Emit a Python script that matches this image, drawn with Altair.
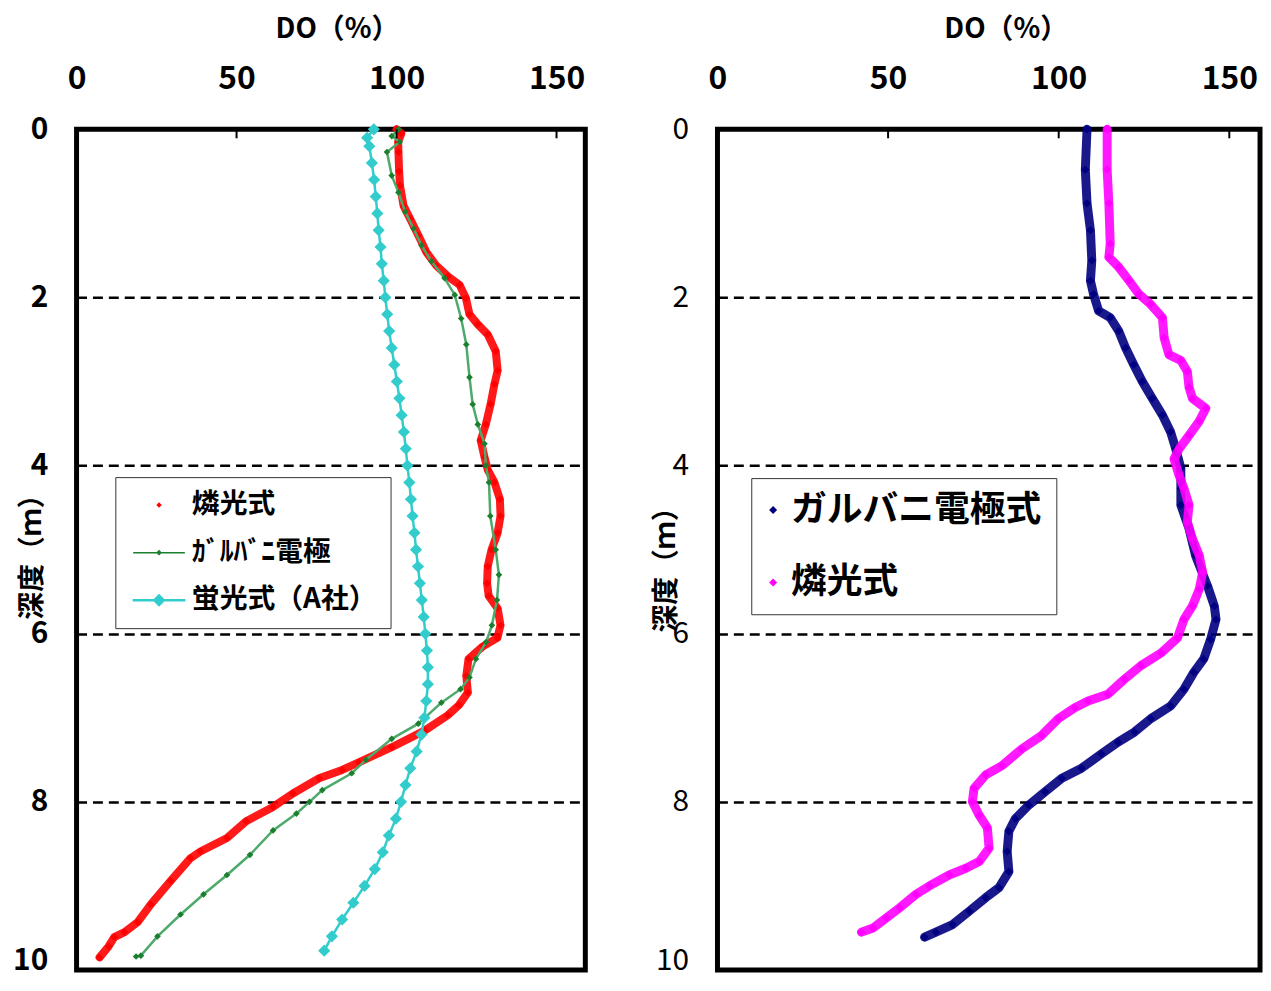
import altair as alt
import pandas as pd

FONT = "Noto Sans CJK JP"

# ---------------- Left panel ----------------
red_name = "燐光式"
red_depth = [0.0, 0.05, 0.15, 0.27, 0.5, 0.67, 0.91, 1.06, 1.26, 1.46, 1.62, 1.75, 1.85, 2.01, 2.2,
             2.32, 2.44, 2.64, 2.87, 3.03, 3.27, 3.51, 3.7, 3.9, 4.05, 4.2, 4.4, 4.6, 4.8, 5.0,
             5.2, 5.4, 5.55, 5.7, 5.9, 6.05, 6.15, 6.3, 6.5, 6.7, 6.85, 6.97, 7.15, 7.35, 7.53,
             7.62, 7.72, 7.9, 8.06, 8.23, 8.43, 8.59, 8.67, 8.94, 9.22, 9.43, 9.55, 9.61, 9.72, 9.85]
red_do = [100.0, 101.5, 100.5, 100.6, 100.8, 101.1, 102.2, 104.2, 106.8, 109.3, 112.4, 116.1, 119.7, 121.7, 122.8,
          125.4, 128.5, 131.0, 131.6, 130.6, 129.4, 127.9, 126.3, 127.5, 128.5, 130.6, 132.3, 132.5, 131.6, 129.7,
          128.5, 128.3, 128.8, 131.6, 132.5, 131.5, 127.0, 122.5, 121.8, 122.3, 119.5, 116.0, 108.9, 98.5, 88.2,
          83.0, 75.8, 67.6, 61.4, 53.0, 47.0, 38.7, 35.6, 29.4, 23.2, 19.1, 15.0, 11.8, 10.0, 7.2]

green_name = "ｶﾞﾙﾊﾞﾆ電極"
green_depth = [0.0, 0.08, 0.15, 0.27, 0.55, 0.75, 0.98, 1.18, 1.38, 1.57, 1.77, 1.97, 2.25, 2.56, 2.95,
               3.27, 3.51, 3.74, 4.0, 4.2, 4.6, 5.0, 5.3, 5.6, 5.9, 6.1, 6.3, 6.52, 6.66, 6.82,
               7.07, 7.25, 7.5, 7.66, 7.86, 8.0, 8.14, 8.34, 8.63, 8.87, 9.1, 9.34, 9.6, 9.83, 9.84]
green_do = [100.6, 98.5, 101.0, 97.0, 98.5, 100.6, 102.7, 105.3, 107.8, 110.9, 115.0, 118.2, 120.2, 121.8, 122.8,
            123.8, 125.4, 127.5, 127.9, 128.9, 129.3, 131.0, 132.0, 131.4, 129.8, 128.0, 124.8, 122.8, 120.0, 114.0,
            106.8, 98.5, 90.4, 86.0, 76.8, 72.8, 68.7, 61.4, 54.2, 47.0, 39.7, 32.5, 25.3, 20.1, 18.6]

cyan_name = "蛍光式（A社）"
cyan_depth = [0.0, 0.1, 0.2, 0.4, 0.6, 0.8, 1.0, 1.2, 1.4, 1.6, 1.8, 2.0, 2.2, 2.4, 2.6, 2.8, 3.0,
              3.2, 3.4, 3.6, 3.8, 4.0, 4.2, 4.4, 4.6, 4.8, 5.0, 5.2, 5.4, 5.6, 5.8, 6.0, 6.2, 6.4,
              6.6, 6.8, 7.0, 7.2, 7.4, 7.6, 7.8, 8.0, 8.2, 8.4, 8.6, 8.8, 9.0, 9.2, 9.4, 9.6, 9.77]
cyan_do = [92.9, 90.8, 91.5, 92.3, 93.0, 93.5, 94.0, 94.4, 95.0, 95.4, 96.0, 96.5, 97.1, 97.7, 98.5, 99.3, 100.1,
           100.9, 101.6, 102.3, 102.9, 103.4, 104.0, 104.5, 105.0, 105.6, 106.1, 106.7, 107.3, 107.9, 108.5, 109.0, 109.5, 109.8,
           109.8, 109.3, 108.7, 107.8, 106.3, 104.3, 102.8, 101.4, 99.8, 97.6, 95.7, 93.2, 90.0, 86.5, 83.0, 79.8, 77.4]

# ---------------- Right panel ----------------
navy_name = "ガルバニ電極式"
navy_depth = [0.0, 0.48, 0.88, 1.2, 1.56, 1.8, 1.96, 2.16, 2.24, 2.4, 2.6, 2.8, 3.0, 3.2, 3.4, 3.6, 3.8,
              4.03, 4.27, 4.47, 4.75, 5.07, 5.43, 5.67, 5.83, 6.07, 6.3, 6.46, 6.66, 6.86, 7.01, 7.17,
              7.29, 7.43, 7.6, 7.72, 7.88, 8.04, 8.2, 8.35, 8.59, 8.83, 9.02, 9.14, 9.3, 9.46, 9.55, 9.61]
navy_do = [108.3, 107.8, 108.3, 109.3, 109.7, 109.3, 110.2, 111.7, 115.1, 117.6, 119.6, 122.0, 124.5, 127.4, 130.4, 132.8, 134.3,
           135.8, 135.8, 135.8, 138.2, 140.1, 143.6, 145.6, 146.1, 144.5, 142.5, 139.6, 136.7, 132.8, 127.0, 122.2,
           117.4, 112.5, 106.7, 100.9, 96.0, 91.2, 87.3, 85.4, 84.9, 85.4, 82.5, 78.6, 73.8, 68.9, 64.0, 60.7]

mag_name = "燐光式"
mag_depth = [0.0, 0.48, 0.88, 1.36, 1.52, 1.64, 1.8, 1.96, 2.08, 2.24, 2.48, 2.68, 2.75, 2.88, 3.07, 3.2,
             3.32, 3.47, 3.64, 3.8, 3.92, 4.12, 4.27, 4.47, 4.67, 4.87, 5.07, 5.27, 5.47, 5.67, 5.83,
             6.05, 6.23, 6.38, 6.54, 6.72, 6.8, 6.88, 7.01, 7.21, 7.37, 7.57, 7.68, 7.84, 8.0, 8.16,
             8.31, 8.55, 8.71, 8.79, 8.87, 9.0, 9.1, 9.26, 9.38, 9.5, 9.55]
mag_do = [114.2, 114.2, 114.7, 115.1, 114.7, 117.6, 120.6, 123.5, 126.9, 130.4, 130.9, 132.3, 135.8, 137.7, 138.2, 139.2,
          143.1, 141.2, 138.2, 135.3, 133.8, 135.3, 136.7, 138.2, 137.7, 139.2, 141.2, 142.2, 141.2, 139.2, 136.7,
          134.8, 130.0, 124.1, 119.3, 114.4, 108.6, 104.7, 99.9, 95.0, 89.2, 83.4, 78.6, 75.2, 74.7, 76.7,
          79.1, 79.6, 76.7, 72.8, 67.9, 62.1, 58.2, 53.4, 49.5, 45.6, 42.2]

tick_values = [50, 100, 150]


def long_df(series):
    rows = []
    for name, d, v in series:
        for i, (dd, vv) in enumerate(zip(d, v)):
            rows.append({"series": name, "depth": dd, "do": vv, "i": i})
    return pd.DataFrame(rows)


def axes(label_weight_y, xtitle_x, title_x, title_y, ylabel_pad):
    x = alt.X("do:Q", scale=alt.Scale(domain=[0, 159], nice=False, zero=False),
              axis=alt.Axis(orient="top", values=[0, 50, 100, 150], format="d", title="DO（%）",
                            labelFont=FONT, labelFontSize=32, labelFontWeight="bold", labelColor="black",
                            labelPadding=34, labelFlush=False,
                            titleFont=FONT, titleFontSize=28, titleFontWeight="bold",
                            titleColor="black", titleX=xtitle_x, titleY=-114, titleBaseline="top",
                            domain=False, ticks=False, grid=False))
    y = alt.Y("depth:Q", scale=alt.Scale(domain=[0, 10], reverse=True, nice=False, zero=False),
              axis=alt.Axis(values=[0, 2, 4, 6, 8, 10], format="d", title="深度（ｍ）",
                            labelFont=FONT, labelFontSize=30, labelFontWeight=label_weight_y,
                            labelColor="black", labelPadding=ylabel_pad, labelFlush=False,
                            labelBaseline={"condition": {"test": "datum.value == 10", "value": "alphabetic"},
                                           "value": "middle"},
                            titleFont=FONT, titleFontSize=28, titleFontWeight="bold", titleColor="black",
                            titleX=title_x, titleY=title_y, titleBaseline="middle", titleAngle=270,
                            domain=False, ticks=False, grid=True, gridColor="black",
                            gridDash=[10, 6], gridWidth=2.5, gridOpacity=1))
    return x, y


def dense(df, name, color, x, y, width, size):
    base = alt.Chart(df).transform_filter(alt.datum.series == name)
    line = base.mark_line(color=color, strokeWidth=width, opacity=0.9, strokeCap="round",
                          strokeJoin="round").encode(x=x, y=y, order="i:Q")
    pts = base.mark_point(shape="diamond", filled=True, color=color, size=size, opacity=1).encode(x=x, y=y)
    return [line, pts]


def legend_layer(df, x, y, names, colors, paths, lx, ly, fsize, rowpad, sym_off, lab_off, pad):
    leg = alt.Legend(orient="none", legendX=lx, legendY=ly, title=None,
                     labelFont=FONT, labelFontSize=fsize, labelFontWeight="bold", labelColor="black",
                     labelLimit=500, strokeColor="#333333", fillColor="white", padding=pad,
                     symbolSize=100, symbolStrokeWidth=0, rowPadding=rowpad,
                     symbolOffset=sym_off, labelOffset=lab_off)
    return alt.Chart(df).transform_filter("false").mark_point(filled=True, opacity=1, size=100).encode(
        x=x, y=y,
        color=alt.Color("series:N", scale=alt.Scale(domain=names, range=colors), legend=leg),
        shape=alt.Shape("series:N", scale=alt.Scale(domain=names, range=paths), legend=leg),
    )


ticks_df = pd.DataFrame({"do": tick_values})

# Left
dfL = long_df([(red_name, red_depth, red_do), (green_name, green_depth, green_do),
               (cyan_name, cyan_depth, cyan_do)])
xL, yL = axes("bold", 262, -44, 423, 29)
redL = dense(dfL, red_name, "#FF0000", xL, yL, 8, 60)
gbase = alt.Chart(dfL).transform_filter(alt.datum.series == green_name)
g_line = gbase.mark_line(color="#4DAA6B", strokeWidth=2.5).encode(x=xL, y=yL, order="i:Q")
g_pts = gbase.mark_point(shape="diamond", filled=True, color="#1A7F2E", size=45, opacity=1).encode(x=xL, y=yL)
cbase = alt.Chart(dfL).transform_filter(alt.datum.series == cyan_name)
c_line = cbase.mark_line(color="#33CCCC", strokeWidth=2.5).encode(x=xL, y=yL, order="i:Q")
c_pts = cbase.mark_point(shape="diamond", filled=True, color="#33CCCC", size=150, opacity=1).encode(x=xL, y=yL)
tickL = alt.Chart(ticks_df).mark_rule(color="black", strokeWidth=2).encode(x=xL, y=alt.value(0), y2=alt.value(9))
legL = legend_layer(
    dfL, xL, yL, [red_name, green_name, cyan_name], ["#FF0000", "#1A7F2E", "#33CCCC"],
    ["M0,-0.55L0.55,0L0,0.55L-0.55,0Z",
     "M-5.2,-0.15L5.2,-0.15L5.2,0.15L-5.2,0.15Z M0,-0.6L0.6,0L0,0.6L-0.6,0Z",
     "M-5.3,-0.25L5.3,-0.25L5.3,0.25L-5.3,0.25Z M0,-1.3L1.3,0L0,1.3L-1.3,0Z"],
    39, 350, 28, 20, 16, 19, 14)
left = alt.layer(*redL, g_line, g_pts, c_line, c_pts, tickL, legL).properties(width=512, height=846)

# Right
dfR = long_df([(navy_name, navy_depth, navy_do), (mag_name, mag_depth, mag_do)])
xR, yR = axes("normal", 290, -51, 436, 29)
navyR = dense(dfR, navy_name, "#000080", xR, yR, 9, 70)
magR = dense(dfR, mag_name, "#FF00FF", xR, yR, 9, 70)
tickR = alt.Chart(ticks_df).mark_rule(color="black", strokeWidth=2).encode(x=xR, y=alt.value(0), y2=alt.value(9))
legR = legend_layer(
    dfR, xR, yR, [navy_name, mag_name], ["#000080", "#FF00FF"],
    ["M0,-0.8L0.8,0L0,0.8L-0.8,0Z", "M0,-0.8L0.8,0L0,0.8L-0.8,0Z"],
    34, 351, 36, 37, -10, 0, 14)
right = alt.layer(*navyR, *magR, tickR, legR).properties(width=546, height=846)

chart = alt.hconcat(left, right, spacing=62).resolve_scale(
    color="independent", shape="independent", x="independent", y="independent"
).resolve_legend(color="independent", shape="independent").properties(
    padding={"left": 2, "top": 2, "right": 0, "bottom": 0}
).configure(background="white").configure_view(stroke="black", strokeWidth=5)

chart.save("out.html", embed_options={"renderer": "svg", "actions": False})
